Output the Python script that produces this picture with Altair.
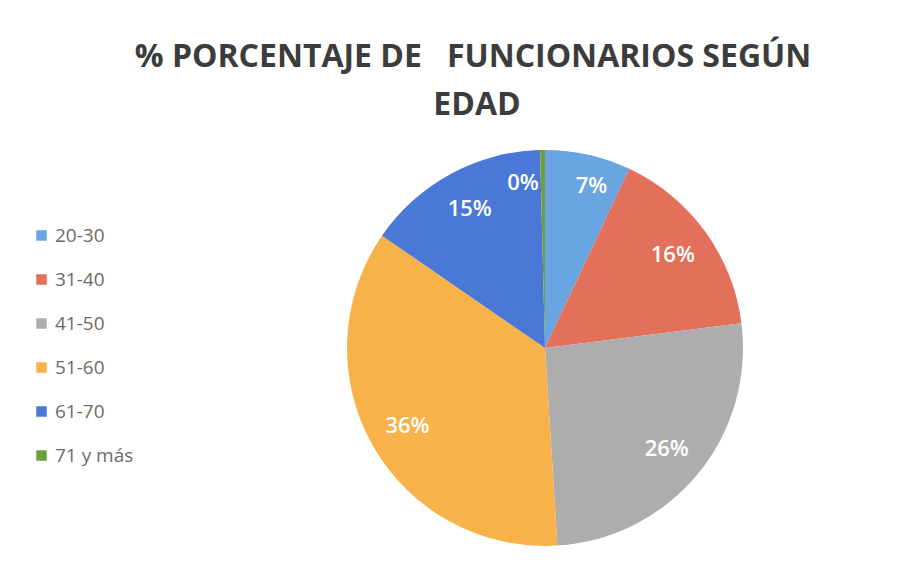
import altair as alt
import pandas as pd

categories = ["20-30", "31-40", "41-50", "51-60", "61-70", "71 y más"]
values = [7.0, 16.0, 26.0, 35.6, 15.0, 0.4]
colors = ["#69A5E0", "#E3705A", "#ADADAD", "#F7B24A", "#4A78D6", "#6E9F3C"]
title_line1 = "% PORCENTAJE DE\u00a0\u00a0\u00a0FUNCIONARIOS SEGÚN"
title_line2 = "EDAD"

df = pd.DataFrame({"cat": categories, "val": values, "idx": list(range(len(categories)))})

CX, CY, R = 537, 340, 198

pie = alt.Chart(df).mark_arc(radius=R).encode(
    theta=alt.Theta("val:Q", stack=True),
    order=alt.Order("idx:Q"),
    x=alt.value(CX),
    y=alt.value(CY),
    color=alt.Color(
        "cat:N",
        scale=alt.Scale(domain=categories, range=colors),
        sort=categories,
        legend=alt.Legend(
            title=None,
            orient="none",
            legendX=24,
            legendY=218,
            symbolType="square",
            symbolSize=110,
            symbolStrokeWidth=0,
            labelFontSize=19,
            labelFont="Open Sans",
            labelColor="#6b6b6b",
            rowPadding=24,
            labelOffset=4,
        ),
    ),
)

lbase = alt.Chart(df).transform_window(
    cum="sum(val)", sort=[alt.SortField("idx", order="ascending")], frame=[None, 0]
).transform_calculate(
    mid="datum.cum - datum.val / 2",
    label="format(round(datum.val), 'd') + '%'",
)

def labels(filter_expr, dx=0, dy=0):
    return lbase.transform_filter(filter_expr).mark_text(
        radius=158, fontSize=22, font="Open Sans", fontWeight=600, color="white", dx=dx, dy=dy
    ).encode(
        theta=alt.Theta("mid:Q", stack=None, scale=alt.Scale(domain=[0, 100])),
        x=alt.value(CX),
        y=alt.value(CY),
        text="label:N",
    )

lab_main = labels("datum.idx > 0 && datum.idx < 5")
lab_first = labels("datum.idx == 0", dx=12, dy=-8)
lab_last = labels("datum.idx == 5", dx=-20, dy=-7)

tdf1 = pd.DataFrame({"t": [title_line1]})
tdf2 = pd.DataFrame({"t": [title_line2]})
tstyle = dict(fontSize=32, font="Open Sans", fontWeight="bold", color="#3c3c3c", align="center", baseline="alphabetic")
title1 = alt.Chart(tdf1).mark_text(**tstyle).encode(x=alt.value(465), y=alt.value(59), text="t:N")
title2 = alt.Chart(tdf2).mark_text(**tstyle).encode(x=alt.value(469), y=alt.value(107), text="t:N")

chart = alt.layer(pie, lab_main, lab_first, lab_last, title1, title2).properties(
    width=905, height=554, padding=0, autosize=alt.AutoSizeParams(type="none"), background="white"
).configure_view(stroke=None)

chart.save("out.html", embed_options={"renderer": "svg", "actions": False})
